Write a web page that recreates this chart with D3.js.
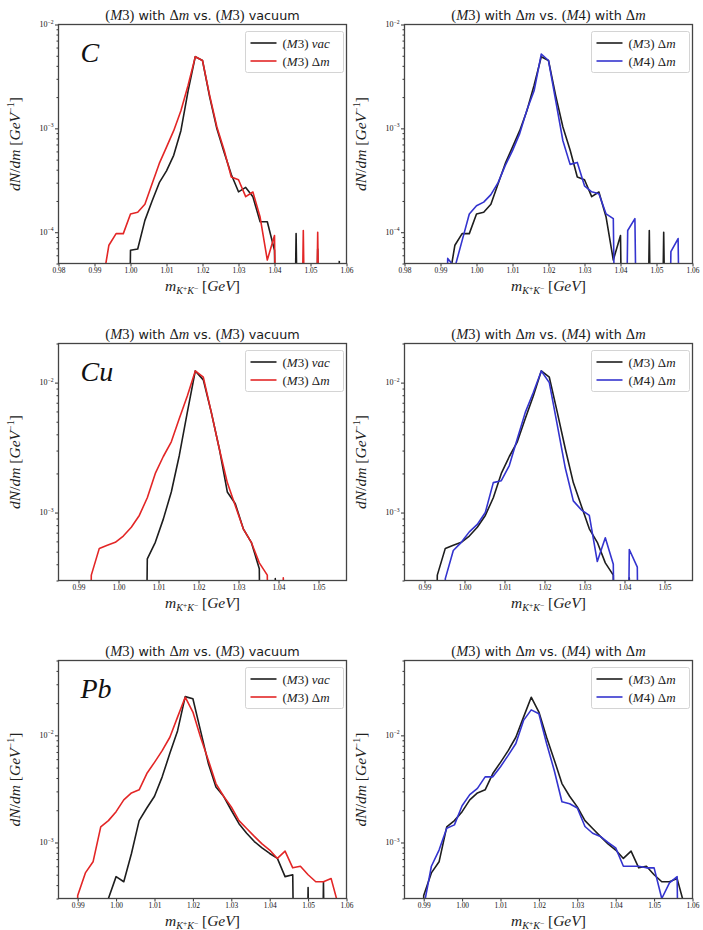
<!DOCTYPE html>
<html>
<head>
<meta charset="utf-8">
<script src="https://cdn.jsdelivr.net/npm/d3@7"></script>
<style>
  body { margin: 0; background: #fff; }
</style>
</head>
<body>
<div id="container"></div>
<script>
const width = 703;
const height = 930;

// ---- data (2 MeV bins) ----
const massC = [0.990,0.992,0.994,0.996,0.998,1.000,1.002,1.004,1.006,1.008,1.010,1.012,1.014,1.016,1.018,1.020,1.022,1.024,1.026,1.028,1.030,1.032,1.034,1.036,1.038,1.040,1.042,1.044,1.046,1.048,1.050,1.052,1.054,1.056,1.058];
const cVac = [0,0,0,0,0,6.7e-5,6.9e-5,1.3e-4,2.0e-4,3.0e-4,3.9e-4,5.5e-4,9.5e-4,2.3e-3,4.9e-3,4.5e-3,2.0e-3,9.9e-4,5.9e-4,3.6e-4,2.45e-4,2.7e-4,2.2e-4,1.26e-4,1.26e-4,6.7e-5,0,0,9.7e-5,0,0,6.9e-5,0,0,5.3e-5];
const cM3 = [0,2.9e-5,7.5e-5,9.7e-5,9.7e-5,1.5e-4,1.56e-4,1.86e-4,2.93e-4,4.6e-4,6.6e-4,9.5e-4,1.48e-3,2.6e-3,4.9e-3,4.5e-3,2.07e-3,1.03e-3,6.2e-4,3.4e-4,3.2e-4,2.2e-4,2.44e-4,1.4e-4,5.4e-5,9.3e-5,0,0,0,1.04e-4,0,1.0e-4,0,0,0];
const cM4 = [0,5.6e-5,4.6e-5,8.3e-5,1.5e-4,1.8e-4,1.95e-4,2.3e-4,3.0e-4,4.4e-4,6.1e-4,8.9e-4,1.5e-3,2.3e-3,5.2e-3,4.5e-3,1.85e-3,7.6e-4,4.5e-4,4.7e-4,2.8e-4,2.45e-4,2.35e-4,1.5e-4,1.35e-4,0,1.04e-4,1.35e-4,0,0,0,0,6.5e-5,8.7e-5,0];

const massCu = [0.9912,0.9932,0.9952,0.9972,0.9992,1.0012,1.0032,1.0052,1.0072,1.0092,1.0112,1.0132,1.0152,1.0172,1.0192,1.0212,1.0232,1.0252,1.0272,1.0292,1.0312,1.0332,1.0352,1.0372,1.0392,1.0412,1.0432,1.0452];
const cuVac = [0,0,0,0,0,0,0,0,4.4e-4,5.9e-4,8.9e-4,1.44e-3,2.75e-3,5.9e-3,1.23e-2,1.05e-2,5.9e-3,3.1e-3,1.44e-3,1.17e-3,7.5e-4,5.9e-4,3.7e-4,0,3.1e-4,0,0,0];
const cuM3 = [0,3.3e-4,5.3e-4,5.6e-4,5.9e-4,6.6e-4,7.7e-4,9.5e-4,1.3e-3,2.0e-3,2.7e-3,3.5e-3,5.3e-3,7.9e-3,1.23e-2,1.1e-2,5.9e-3,3.1e-3,1.7e-3,1.13e-3,7.5e-4,5.9e-4,4.1e-4,3.3e-4,0,3.15e-4,0,0];
const cuM4 = [0,0,3.1e-4,5.1e-4,5.9e-4,7.1e-4,8.1e-4,1.0e-3,1.7e-3,1.76e-3,2.3e-3,3.7e-3,5.9e-3,8.4e-3,1.23e-2,1.0e-2,4.7e-3,2.2e-3,1.23e-3,1.05e-3,9.5e-4,4.2e-4,6.4e-4,4.0e-4,0,5.2e-4,3.8e-4,0];

const massPb = [0.988,0.990,0.992,0.994,0.996,0.998,1.000,1.002,1.004,1.006,1.008,1.010,1.012,1.014,1.016,1.018,1.020,1.022,1.024,1.026,1.028,1.030,1.032,1.034,1.036,1.038,1.040,1.042,1.044,1.046,1.048,1.050,1.052,1.054,1.056,1.058];
const pbVac = [0,0,0,0,0,3.0e-4,4.8e-4,4.3e-4,7.9e-4,1.6e-3,2.1e-3,2.7e-3,4.1e-3,6.8e-3,1.1e-2,2.3e-2,2.2e-2,1.1e-2,5.5e-3,3.3e-3,2.7e-3,2.0e-3,1.5e-3,1.22e-3,1.02e-3,8.9e-4,7.9e-4,7.1e-4,4.8e-4,5.0e-4,0,3.8e-4,0,4.3e-4,0,0];
const pbM3 = [0,3.2e-4,5.2e-4,6.6e-4,1.4e-3,1.6e-3,1.94e-3,2.5e-3,2.9e-3,3.1e-3,4.4e-3,5.6e-3,7.2e-3,9.6e-3,1.48e-2,2.27e-2,1.65e-2,9.6e-3,5.9e-3,3.55e-3,2.7e-3,2.15e-3,1.6e-3,1.35e-3,1.14e-3,9.7e-4,8.5e-4,7.1e-4,8.3e-4,5.8e-4,6.0e-4,5.0e-4,4.3e-4,4.3e-4,4.6e-4,2.5e-4];
const pbM4 = [0,2.5e-4,6.0e-4,8.5e-4,1.36e-3,1.46e-3,2.2e-3,2.8e-3,3.2e-3,4.1e-3,4.1e-3,5.1e-3,6.5e-3,8.4e-3,1.38e-2,1.73e-2,1.59e-2,8.4e-3,4.7e-3,2.4e-3,2.3e-3,2.1e-3,1.41e-3,1.22e-3,1.14e-3,1.0e-3,8.9e-4,6.0e-4,6.0e-4,6.0e-4,5.8e-4,5.8e-4,3.0e-4,4.2e-4,4.8e-4,0];

const xTicksC = [0.98,0.99,1.00,1.01,1.02,1.03,1.04,1.05,1.06];
const xTicksCu = [0.99,1.00,1.01,1.02,1.03,1.04,1.05];
const xTicksPb = [0.99,1.00,1.01,1.02,1.03,1.04,1.05,1.06];

const elements = ["C", "Cu", "Pb"];
const titleVac = [["(","r"],["M","i"],["3)","r"],[" with ","s"],["Δ","r"],["m","i"],[" vs. ","s"],["(","r"],["M","i"],["3)","r"],[" vacuum","s"]];
const titleM4 = [["(","r"],["M","i"],["3)","r"],[" with ","s"],["Δ","r"],["m","i"],[" vs. ","s"],["(","r"],["M","i"],["4)","r"],[" with ","s"],["Δ","r"],["m","i"]];
const legVac = [["(","r"],["M","i"],["3) ","r"],["vac","i"]];
const legM3 = [["(","r"],["M","i"],["3) Δ","r"],["m","i"]];
const legM4 = [["(","r"],["M","i"],["4) Δ","r"],["m","i"]];

const black = "#1e1e1e", red = "#e32626", blue = "#3434cf";

const panels = [
  { row: 0, col: 0, mass: massC, xd: [0.98, 1.06], yd: [5e-5, 1e-2], xt: xTicksC, el: elements[0], title: titleVac,
    series: [{ v: cVac, c: black, leg: legVac }, { v: cM3, c: red, leg: legM3 }] },
  { row: 0, col: 1, mass: massC, xd: [0.98, 1.06], yd: [5e-5, 1e-2], xt: xTicksC, title: titleM4,
    series: [{ v: cM3, c: black, leg: legM3 }, { v: cM4, c: blue, leg: legM4 }] },
  { row: 1, col: 0, mass: massCu, xd: [0.985, 1.057], yd: [3e-4, 2e-2], xt: xTicksCu, el: elements[1], title: titleVac,
    series: [{ v: cuVac, c: black, leg: legVac }, { v: cuM3, c: red, leg: legM3 }] },
  { row: 1, col: 1, mass: massCu, xd: [0.985, 1.057], yd: [3e-4, 2e-2], xt: xTicksCu, title: titleM4,
    series: [{ v: cuM3, c: black, leg: legM3 }, { v: cuM4, c: blue, leg: legM4 }] },
  { row: 2, col: 0, mass: massPb, xd: [0.985, 1.06], yd: [3e-4, 5e-2], xt: xTicksPb, el: elements[2], title: titleVac,
    series: [{ v: pbVac, c: black, leg: legVac }, { v: pbM3, c: red, leg: legM3 }] },
  { row: 2, col: 1, mass: massPb, xd: [0.985, 1.06], yd: [3e-4, 5e-2], xt: xTicksPb, title: titleM4,
    series: [{ v: pbM3, c: black, leg: legM3 }, { v: pbM4, c: blue, leg: legM4 }] }
];

const cols = [{ l: 58.5, r: 346.5 }, { l: 404.5, r: 692.5 }];
const rows = [{ t: 24.5, b: 263.5 }, { t: 343.5, b: 580.5 }, { t: 660.5, b: 898.5 }];

const serif = "'Liberation Serif', 'DejaVu Serif', serif";
const sans = "'DejaVu Sans', sans-serif";

const svg = d3.select("#container")
  .append("svg")
  .attr("width", width)
  .attr("height", height)
  .style("background", "#fff");

// text made of roman / italic / sans pieces
function rich(sel, parts, size) {
  parts.forEach(([t, s]) => {
    const ts = sel.append("tspan").text(t);
    if (s === "s") ts.attr("font-family", sans).attr("font-size", size * 0.88);
    else ts.attr("font-family", serif).attr("font-style", s === "i" ? "italic" : "normal");
  });
  return sel;
}

panels.forEach((p, i) => {
  const L = cols[p.col].l, R = cols[p.col].r, T = rows[p.row].t, B = rows[p.row].b;

  const x = d3.scaleLinear().domain(p.xd).range([L, R]);
  const y = d3.scaleLog().domain(p.yd).range([B, T]);

  const g = svg.append("g");

  g.append("clipPath").attr("id", "clip" + i)
    .append("rect").attr("x", L).attr("y", T).attr("width", R - L).attr("height", B - T);

  const line = d3.line()
    .x((d) => x(d[0]))
    .y((d) => y(Math.max(d[1], 1e-9)));

  p.series.forEach((s) => {
    g.append("path")
      .datum(p.mass.map((m, k) => [m, s.v[k]]))
      .attr("clip-path", `url(#clip${i})`)
      .attr("fill", "none")
      .attr("stroke", s.c)
      .attr("stroke-width", 1.6)
      .attr("stroke-linejoin", "round")
      .attr("d", line);
  });

  // x axis
  const xAxis = g.append("g")
    .attr("transform", `translate(0,${B})`)
    .call(d3.axisBottom(x).tickValues(p.xt).tickSize(3).tickFormat(d3.format(".2f")));
  xAxis.select(".domain").remove();
  xAxis.selectAll("line").attr("stroke", "#333");
  xAxis.selectAll("text")
    .attr("font-family", serif).attr("font-size", 7.4).attr("fill", "#111").attr("dy", "0.5em");

  // y axis: majors + minors
  const lo = Math.floor(Math.log10(p.yd[0])), hi = Math.ceil(Math.log10(p.yd[1]));
  const majors = [], minors = [];
  for (let k = lo; k <= hi; k++) {
    const base = Math.pow(10, k);
    if (base >= p.yd[0] * 0.999 && base <= p.yd[1] * 1.001) majors.push(base);
    for (let j = 2; j <= 9; j++) {
      const v = j * base;
      if (v >= p.yd[0] && v <= p.yd[1]) minors.push(v);
    }
  }
  const yAxis = g.append("g")
    .attr("transform", `translate(${L},0)`)
    .call(d3.axisLeft(y).tickValues(majors).tickSize(3.5).tickFormat(""));
  yAxis.select(".domain").remove();
  yAxis.selectAll("line").attr("stroke", "#333");
  g.append("g")
    .attr("transform", `translate(${L},0)`)
    .call(d3.axisLeft(y).tickValues(minors).tickSize(2).tickFormat(""))
    .call((a) => a.select(".domain").remove())
    .selectAll("line").attr("stroke", "#333");

  majors.forEach((v) => {
    const t = g.append("text")
      .attr("x", L - 5).attr("y", y(v) + 2.5)
      .attr("text-anchor", "end")
      .attr("font-family", serif).attr("font-size", 8).attr("fill", "#111");
    t.append("tspan").text("10");
    t.append("tspan").attr("font-size", 5.6).attr("dy", -3.4).text("−" + Math.abs(Math.round(Math.log10(v))));
  });

  // frame
  g.append("rect")
    .attr("x", L).attr("y", T).attr("width", R - L).attr("height", B - T)
    .attr("fill", "none").attr("stroke", "#444").attr("stroke-width", 1.3);

  // title
  rich(g.append("text")
    .attr("x", (L + R) / 2).attr("y", T - 5)
    .attr("text-anchor", "middle").attr("font-size", 14.5).attr("fill", "#1a1a1a"), p.title, 14.5);

  // axis labels
  const xl = g.append("text")
    .attr("x", (L + R) / 2).attr("y", B + 27)
    .attr("text-anchor", "middle").attr("font-family", serif).attr("font-size", 15.5).attr("fill", "#222");
  xl.append("tspan").attr("font-style", "italic").text("m");
  xl.append("tspan").attr("font-style", "italic").attr("font-size", 10).attr("dy", 3).text("K");
  xl.append("tspan").attr("font-size", 7.5).attr("dy", -3).text("+");
  xl.append("tspan").attr("font-style", "italic").attr("font-size", 10).attr("dy", 3).text("K");
  xl.append("tspan").attr("font-size", 7.5).attr("dy", -3).text("−");
  xl.append("tspan").attr("dy", 0).text(" [");
  xl.append("tspan").attr("font-style", "italic").text("GeV");
  xl.append("tspan").text("]");

  const cy = (T + B) / 2;
  const yl = g.append("text")
    .attr("transform", `translate(${L - 39},${cy}) rotate(-90)`)
    .attr("text-anchor", "middle").attr("font-family", serif).attr("font-size", 15.5).attr("fill", "#222");
  yl.append("tspan").attr("font-style", "italic").text("dN");
  yl.append("tspan").text("/");
  yl.append("tspan").attr("font-style", "italic").text("dm");
  yl.append("tspan").text(" [");
  yl.append("tspan").attr("font-style", "italic").text("GeV");
  yl.append("tspan").attr("font-size", 10).attr("dy", -6).text("−1");
  yl.append("tspan").attr("dy", 6).text("]");

  // element label
  if (p.el) {
    g.append("text")
      .attr("x", L + 22).attr("y", T + 37)
      .attr("font-family", serif).attr("font-style", "italic").attr("font-size", 28).attr("fill", "#111")
      .text(p.el);
  }

  // legend
  const lw = 98, lh = 41, lx = R - 3 - lw, ly = T + 7;
  g.append("rect")
    .attr("x", lx).attr("y", ly).attr("width", lw).attr("height", lh).attr("rx", 2)
    .attr("fill", "#fff").attr("fill-opacity", 0.85).attr("stroke", "#cfcfcf").attr("stroke-width", 0.9);
  p.series.forEach((s, k) => {
    const yy = ly + 11.5 + k * 18;
    g.append("line")
      .attr("x1", lx + 5).attr("x2", lx + 31).attr("y1", yy).attr("y2", yy)
      .attr("stroke", s.c).attr("stroke-width", 1.6);
    rich(g.append("text")
      .attr("x", lx + 37).attr("y", yy + 4.5)
      .attr("font-size", 13).attr("fill", "#222"), s.leg, 13);
  });
});
</script>
</body>
</html>
